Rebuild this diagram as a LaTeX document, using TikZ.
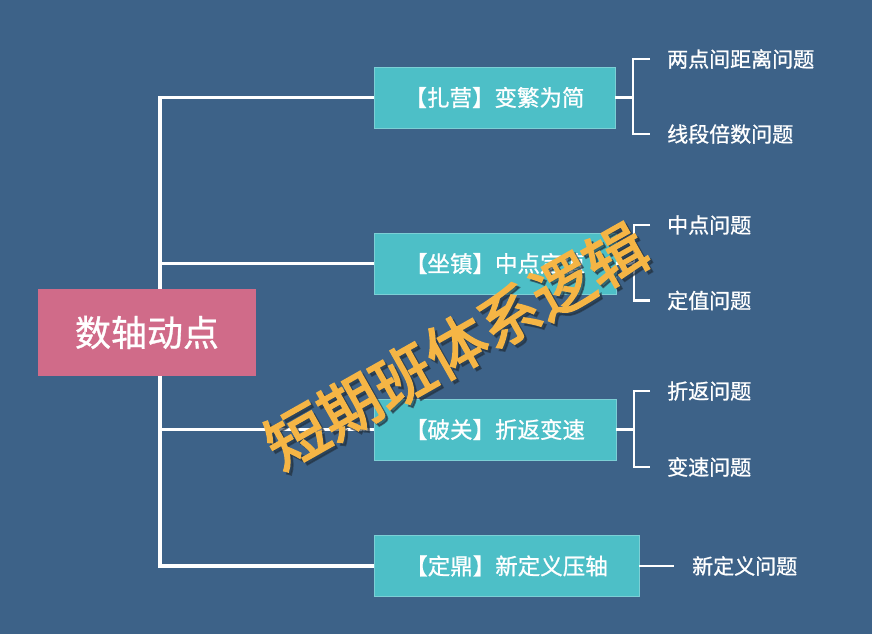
\documentclass[tikz,border=0pt]{standalone}
\usepackage{fontspec}
\setmainfont{Noto Sans CJK SC}
\newfontfamily\cjkbold{Noto Sans CJK SC}[FakeBold=2.8]
\newfontfamily\cjkmed{Noto Sans CJK SC}[FakeBold=0.9]
\usetikzlibrary{positioning,calc}
\pgfdeclarelayer{bglayer}
\pgfdeclarelayer{linklayer}
\pgfsetlayers{bglayer,linklayer,main}
\definecolor{bg}{HTML}{3D6288}
\definecolor{teal}{HTML}{4DBFC7}
\definecolor{tealedge}{HTML}{7CCFD5}
\definecolor{rootc}{HTML}{D06B89}
\definecolor{wm}{HTML}{F5B545}
\definecolor{wmshadow}{HTML}{22303E}
\tikzset{
  box/.style={fill=teal, draw=tealedge, line width=0.8pt, minimum height=61pt, inner sep=0pt, text=white, font=\cjkmed\fontsize{22.5}{26}\selectfont},
  rootbox/.style={fill=rootc, minimum width=218pt, minimum height=87pt, inner sep=0pt, text=white, font=\cjkmed\fontsize{36}{40}\selectfont},
  leaf/.style={anchor=west, text=white, inner sep=0pt, font=\cjkmed\fontsize{21}{24}\selectfont},
  link/.style={draw=white, line width=3.2pt},
  brace/.style={draw=white, line width=2.6pt},
  watermark/.style={rotate=29.5, font=\cjkbold\fontsize{61}{64}\selectfont},
}
\begin{document}
\begin{tikzpicture}[x=1pt,y=-1pt]
\begin{pgfonlayer}{bglayer}
\fill[bg] (0,0) rectangle (872,634);
\end{pgfonlayer}
\useasboundingbox (0,0) rectangle (872,634);
% boxes
\node[box, minimum width=241pt] (b1) at (494.5,97.5) {【扎营】变繁为简};
\node[box, minimum width=242pt] (b2) at (495,263.5) {【坐镇】中点定值};
\node[box, minimum width=242pt] (b3) at (495,429.5) {【破关】折返变速};
\node[box, minimum width=265pt] (b4) at (506.5,566) {【定鼎】新定义压轴};
\node[rootbox] (root) at (147,332.5) {数轴动点};
% trunk and branches
\coordinate (t1) at (160,97.5);
\coordinate (t2) at (160,263.5);
\coordinate (t3) at (160,429.5);
\coordinate (t4) at (160,566);
\begin{pgfonlayer}{linklayer}
\draw[link] (b1.west) -- (t1) -- (t4) -- (b4.west);
\draw[link] (t2) -- (b2.west);
\draw[link] (t3) -- (b3.west);
\end{pgfonlayer}
% leaves
\node[leaf] (l1a) at (667,59) {两点间距离问题};
\node[leaf] (l1b) at (667,134) {线段倍数问题};
\node[leaf] (l2a) at (667,225) {中点问题};
\node[leaf] (l2b) at (667,300.5) {定值问题};
\node[leaf] (l3a) at (667,391) {折返问题};
\node[leaf] (l3b) at (667,467) {变速问题};
\node[leaf] (l4) at (692,566) {新定义问题};
% brackets
\foreach \b/\t/\bo in {b1/l1a/l1b, b2/l2a/l2b, b3/l3a/l3b}{
  \coordinate (m\b) at ($(\b.east)+(17.5,0)$);
  \draw[brace] (\b.east) -- (m\b);
  \draw[brace] ($(\t.west)+(-17,0)$) -- (m\b |- \t.west) -- (m\b |- \bo.west) -- ($(\bo.west)+(-17,0)$);
}
\draw[brace] (b4.east) -- ($(l4.west)+(-18,0)$);
% watermark
\node[watermark, text=wmshadow, opacity=0.6] (wms) at (459,349) {短期班体系逻辑};
\node[watermark, text=wm] (wmk) at (456,346) {短期班体系逻辑};
\end{tikzpicture}
\end{document}
